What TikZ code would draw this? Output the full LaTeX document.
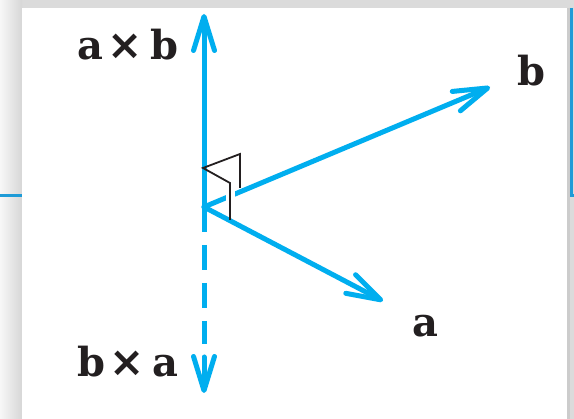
\documentclass[tikz,border=0pt]{standalone}
\usepackage{fontspec}
\setmainfont{DejaVu Serif}
\newfontfamily\xsym{DejaVu Sans}
\usetikzlibrary{arrows.meta}
\definecolor{vblue}{HTML}{00AEEF}
\definecolor{fblue}{HTML}{1E9BD7}
\definecolor{ink}{HTML}{231F20}
\newcommand{\crossx}{\hspace{4pt}{\xsym\fontsize{42}{42}\selectfont\bfseries ×}\hspace{7pt}}
\begin{document}
\begin{tikzpicture}[x=1pt,y=-1pt,
  vec/.style={line width=5pt, draw=vblue, line cap=round},
  vtip/.style={-{Straight Barb[length=34pt,width=21pt,round]}},
  lbl/.style={font=\fontsize{40}{40}\selectfont\bfseries, text=ink, inner sep=0pt, anchor=base},
  rtmark/.style={draw=ink, line width=1.8pt, line join=miter}]
\useasboundingbox (0,0) rectangle (574,419);
% frame
\fill[gray!28] (0,0) rectangle (574,419);
\shade[left color=gray!6, right color=gray!32] (0,0) rectangle (22,419);
\fill[white] (22,8) rectangle (567,419);
\fill[gray!40] (567,8) rectangle (570,419);
\draw[fblue, line width=3pt] (0,195.5) -- (22,195.5);
\draw[fblue, line width=3pt] (571.5,8) -- (571.5,195.5) -- (574,195.5);
% vectors
\coordinate (O) at (204,207);
\coordinate (up) at (204,14);
\coordinate (btip) at (490,87);
\coordinate (atip) at (383,301);
\coordinate (dend) at (204,344);
\coordinate (dmid) at (204,357);
\coordinate (down) at (204,393);
\draw[vec,vtip] (O) -- (up);
\draw[vec,vtip] (O) -- (btip);
\draw[vec,vtip] (O) -- (atip);
\draw[vec,line cap=butt,dash pattern=on 25pt off 13pt] (O) -- (dend);
\draw[vec,vtip] (dmid) -- (down);
% right-angle marker
\draw[white, line width=9pt] (230,189) -- (230,203);
\draw[rtmark] (240,188) -- (240,154) -- (203,168) -- (230,183) -- (230,220);
% labels
\node[lbl] (axb) at (128,60) {a\crossx b};
\node[lbl] (lb) at (531,86) {b};
\node[lbl] (la) at (425,337) {a};
\node[lbl] (bxa) at (128,377) {b\crossx a};
\end{tikzpicture}
\end{document}
